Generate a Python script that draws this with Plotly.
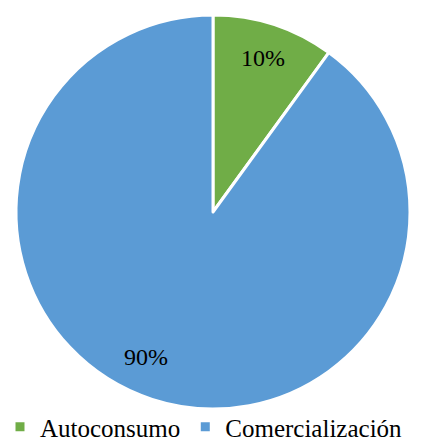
import math
import plotly.graph_objects as go

categories = ["Autoconsumo", "Comercialización"]
values = [10, 90]
colors = ["#70AD47", "#5B9BD5"]

SERIF = '"Liberation Serif", "Times New Roman", Times, serif'

# pie area in paper coordinates
W, H = 421, 443
cx, cy, R = 213, 212, 197
dom_x = [(cx - R) / W, (cx + R) / W]
dom_y = [1 - (cy + R) / H, 1 - (cy - R) / H]

fig = go.Figure(go.Pie(
    labels=categories,
    values=values,
    sort=False,
    direction="clockwise",
    rotation=0,
    marker=dict(colors=colors, line=dict(color="white", width=3)),
    textinfo="none",
    hoverinfo="label+percent",
    domain=dict(x=dom_x, y=dom_y),
))

# percentage labels placed along each slice's bisector
total = sum(values)
label_r = [0.82, 0.81]
angle_shift = [0, 7]
start = 0.0
for v, fr, sh in zip(values, label_r, angle_shift):
    mid = start + v / total * 360 / 2 + sh
    start += v / total * 360
    x = cx + fr * R * math.sin(math.radians(mid))
    y = cy - fr * R * math.cos(math.radians(mid))
    fig.add_annotation(
        x=x / W, y=1 - y / H, xref="paper", yref="paper",
        xanchor="center", yanchor="middle",
        text=f"{round(v / total * 100)}%", showarrow=False,
        font=dict(family=SERIF, size=24, color="black"),
    )

fig.update_layout(
    width=W, height=H,
    margin=dict(l=0, r=0, t=0, b=0, autoexpand=False),
    paper_bgcolor="white",
    plot_bgcolor="white",
    font=dict(family=SERIF, size=24, color="black"),
    showlegend=True,
    legend=dict(
        orientation="h", x=0.0, xanchor="left", y=16 / H, yanchor="middle",
        font=dict(family=SERIF, size=25, color="black"),
        itemwidth=30, tracegroupgap=0,
        bgcolor="rgba(0,0,0,0)",
    ),
)

fig.write_html("out.html")
